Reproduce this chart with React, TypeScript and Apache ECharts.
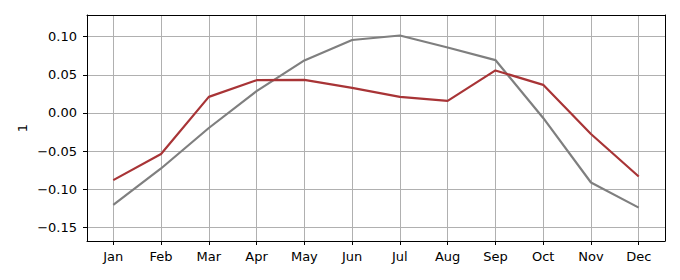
import React, { useEffect, useRef } from "react";
import * as echarts from "echarts";

const months = ["Jan", "Feb", "Mar", "Apr", "May", "Jun", "Jul", "Aug", "Sep", "Oct", "Nov", "Dec"];
const grayValues = [-0.1207, -0.0729, -0.0198, 0.0285, 0.0688, 0.0956, 0.1015, 0.0858, 0.0693, -0.0066, -0.0913, -0.1242];
const redValues = [-0.0882, -0.054, 0.021, 0.0429, 0.0434, 0.0329, 0.021, 0.0158, 0.0557, 0.0368, -0.0276, -0.0834];
const yTicks = [-0.15, -0.1, -0.05, 0.0, 0.05, 0.1];
const xTicks = months.map((_, i) => i);

const FONT = "DejaVu Sans";
const X_MIN = -0.55;
const X_MAX = 11.55;
const Y_MIN = -0.168;
const Y_MAX = 0.1284;

export default function App() {
  const ref = useRef<HTMLDivElement>(null);
  useEffect(() => {
    if (!ref.current) return;
    const chart = echarts.init(ref.current, undefined, { renderer: "svg" });
    const fmtY = (v: number) => {
      const s = Math.abs(v).toFixed(2);
      return v < -1e-9 ? "\u2212" + s : s;
    };
    const frameAxis = {
      type: "value",
      axisLine: { show: true, onZero: false, lineStyle: { color: "#000", width: 1 } },
      axisTick: { show: false },
      axisLabel: { show: false },
      splitLine: { show: false },
    };
    chart.setOption({
      animation: false,
      grid: {
        left: 87,
        right: 15,
        top: 15,
        bottom: 39,
        show: false,
      },
      xAxis: [
        {
          type: "value",
          min: X_MIN,
          max: X_MAX,
          axisLine: { show: true, onZero: false, lineStyle: { color: "#000", width: 1 } },
          axisTick: {
            show: true,
            inside: false,
            length: 4,
            lineStyle: { color: "#000" },
            customValues: xTicks,
          },
          axisLabel: {
            customValues: xTicks,
            formatter: (v: number) => months[Math.round(v)] ?? "",
            color: "#000",
            fontFamily: FONT,
            fontSize: 13,
            margin: 9,
          },
          splitLine: { show: true, lineStyle: { color: "#b0b0b0", width: 1 } },
        },
        { ...frameAxis, position: "top", min: X_MIN, max: X_MAX },
      ],
      yAxis: [
        {
          type: "value",
          min: Y_MIN,
          max: Y_MAX,
          name: "1",
          nameLocation: "middle",
          nameGap: 58,
          nameMoveOverlap: false,
          nameTextStyle: { color: "#000", fontFamily: FONT, fontSize: 13 },
          axisLine: { show: true, onZero: false, lineStyle: { color: "#000", width: 1 } },
          axisTick: {
            show: true,
            inside: false,
            length: 4,
            lineStyle: { color: "#000" },
            customValues: yTicks,
          },
          axisLabel: {
            customValues: yTicks,
            formatter: fmtY,
            color: "#000",
            fontFamily: FONT,
            fontSize: 13,
            margin: 10,
          },
          splitLine: { show: true, lineStyle: { color: "#b0b0b0", width: 1 } },
        },
        { ...frameAxis, position: "right", min: Y_MIN, max: Y_MAX },
      ],
      series: [
        {
          type: "line",
          xAxisIndex: 0,
          yAxisIndex: 0,
          data: grayValues.map((v, i) => [i, v]),
          symbol: "none",
          lineStyle: { color: "#7f7f7f", width: 2.2 },
          z: 3,
        },
        {
          type: "line",
          xAxisIndex: 0,
          yAxisIndex: 0,
          data: redValues.map((v, i) => [i, v]),
          symbol: "none",
          lineStyle: { color: "#a83436", width: 2.2 },
          z: 4,
        },
      ],
    });
    return () => chart.dispose();
  }, []);
  return <div ref={ref} style={{ width: 680, height: 280, position: "absolute", left: 0, top: 0 }} />;
}
